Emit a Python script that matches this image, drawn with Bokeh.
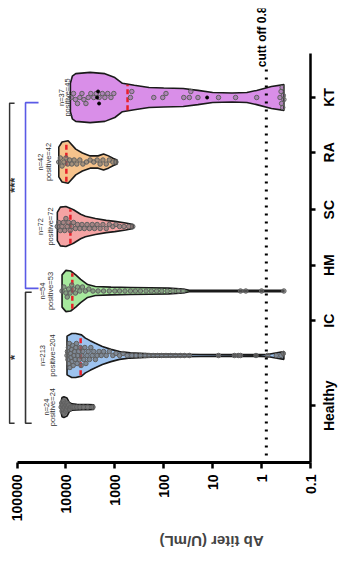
import math
import numpy as np
from bokeh.plotting import figure
from bokeh.models import Range1d, LinearAxis, FixedTicker
from bokeh.core.properties import value
from bokeh.embed import file_html
from bokeh.resources import INLINE

# ---------------- data ----------------
categories = ["Healthy", "IC", "HM", "SC", "RA", "KT"]
n_labels = ["n=24", "n=213", "n=54", "n=72", "n=42", "n=37"]
pos_labels = ["positive=24", "positive=204", "positive=53", "positive=72", "positive=42", "positive=45"]
x_ticks = [0.1, 1, 10, 100, 1000, 10000, 100000]
x_tick_labels = ["0.1", "1", "10", "100", "1000", "10000", "100000"]
cutoff = 0.8
cutoff_text = "cutt off 0.8"
axis_title = "Ab titer (U/mL)"

# violin outlines: titer values and half widths (category units)
healthy_prof_v = [12500, 12000, 11000, 9500, 8500, 7500, 6000, 4500, 3500, 2700]
healthy_prof_w = [0.09, 0.15, 0.16, 0.14, 0.07, 0.05, 0.045, 0.04, 0.04, 0.035]
ic_prof_v = [9500, 7600, 6300, 4800, 4000, 3200, 2500, 1800, 1200, 800, 480, 190, 18, 1.05, 0.72, 0.35]
ic_prof_w = [0.30, 0.34, 0.34, 0.32, 0.27, 0.23, 0.19, 0.14, 0.095, 0.06, 0.04, 0.025, 0.016, 0.013, 0.02, 0.06]
hm_prof_v = [12000, 10000, 8000, 6300, 5000, 3600, 2500, 1200, 480, 190, 80, 40, 30, 0.35]
hm_prof_w = [0.25, 0.32, 0.31, 0.25, 0.18, 0.10, 0.07, 0.06, 0.055, 0.05, 0.045, 0.03, 0.01, 0.01]
sc_prof_v = [15000, 13000, 10000, 7000, 5000, 4000, 2500, 1500, 1000, 600, 420]
sc_prof_w = [0.22, 0.30, 0.31, 0.26, 0.19, 0.16, 0.125, 0.095, 0.08, 0.055, 0.03]
ra_prof_v = [14000, 12000, 9000, 6300, 4600, 3200, 2200, 1700, 1350, 1070, 900]
ra_prof_w = [0.23, 0.31, 0.33, 0.20, 0.14, 0.095, 0.095, 0.125, 0.095, 0.055, 0.03]
kt_prof_v = [8100, 7400, 6300, 3200, 1600, 1000, 700, 400, 200, 100, 40, 20, 10, 4, 2, 1.26, 0.63, 0.35]
kt_prof_w = [0.22, 0.33, 0.37, 0.39, 0.37, 0.31, 0.22, 0.19, 0.155, 0.147, 0.14, 0.11, 0.078, 0.07, 0.078, 0.11, 0.17, 0.20]

# individual titers (approximate readings)
healthy_vals = [12500, 12200, 12000, 11800, 11500, 11200, 11000, 10800, 10500, 10200, 10000, 9800,
                9500, 9200, 8800, 8400, 8000, 7400, 6800, 6000, 5200, 4400, 3600, 2800]
ic_vals = [9500, 9300, 9100, 8900, 8700, 8500, 8300, 8100, 7900, 7700, 7500, 7300, 7100,
           6900, 6700, 6500, 6300, 6100, 5900, 5700, 5500, 5300, 5100, 4900, 4700, 4500,
           4300, 4100, 3900, 3700, 3500, 3300, 3100, 2900, 2700, 2500, 2300, 2100,
           1900, 1700, 1500, 1300, 1100, 950, 800, 680, 560,
           450, 370, 300, 240, 200, 165, 135, 110, 90, 72, 58, 46, 38, 30,
           7.6, 3.6, 3.0, 2.7, 1.3, 0.75, 0.5, 0.4, 0.36]
hm_vals = [12000, 11000, 10000, 9400, 8800, 8200, 7600, 7000, 6400, 5800, 5200, 4600, 4000,
           3400, 2800, 2200, 1700, 1300, 1000, 800, 620, 480, 380, 300, 230, 180, 140, 110, 85,
           65, 50, 40, 2.7, 2.1, 1.0, 0.35]
sc_vals = [15000, 14000, 13000, 12000, 11300, 10600, 10000, 9400, 8800, 8200, 7600, 7000, 6400,
           5800, 5200, 4700, 4200, 3700, 3300, 2900, 2600, 2300, 2000, 1750, 1500, 1300, 1100, 950,
           800, 650, 520, 430]
ra_vals = [14000, 13000, 12000, 11000, 10000, 9200, 8400, 7600, 6800, 6000, 5200, 4500, 3800,
           3200, 2700, 2300, 2000, 1750, 1500, 1300, 1100, 950]
kt_vals = [7800, 7000, 6400, 5800, 5200, 4700, 4300, 3900, 3500, 3100, 2700, 2400, 2100,
           1800, 1600, 1400, 1200, 1050, 480, 450, 160, 105, 90, 39, 30, 28, 20, 7.6, 3.4, 1.26,
           0.42, 0.4, 0.39, 0.38, 0.37, 0.36, 0.35]
kt_black_vals = [2300, 2200, 2100, 13]
medians = [None, 5000, 7400, 8100, 9800, 550]

profiles_v = [healthy_prof_v, ic_prof_v, hm_prof_v, sc_prof_v, ra_prof_v, kt_prof_v]
profiles_w = [healthy_prof_w, ic_prof_w, hm_prof_w, sc_prof_w, ra_prof_w, kt_prof_w]
values = [healthy_vals, ic_vals, hm_vals, sc_vals, ra_vals, kt_vals]

# ---------------- styles / layout ----------------
fills = ["#8a8a8a", "#9dc3ef", "#a6e89d", "#f5a4a4", "#f6c38c", "#d98ee8"]
dot_alpha = [0.75, 0.7, 0.6, 0.6, 0.6, 0.4]
spread = [0.6, 0.6, 0.6, 0.6, 0.6, 0.85]
violin_pos = [0.2, 1, 2, 3, 4, 5]                # vertical position of each violin
label_pos = [0.22, 1.54, 2.40, 3.26, 4.15, 5.0]  # centre of each category tick label
n_label_x = [25000, 30000, 30000, 33000, 33000, 12300]
pos_label_x = [18800, 18800, 20700, 20700, 22700, 9300]
FONT = "Liberation Sans"
LABEL_PX = 14
# Arial-bold advance widths (em) used to centre the rotated tick labels
_em = {"H": .722, "e": .556, "a": .556, "l": .278, "t": .333, "h": .611, "y": .556, "I": .278,
       "C": .722, "M": .833, "S": .667, "R": .722, "A": .722, "K": .722, "T": .611}

FRAME_W, FRAME_H = 302, 454
x_lo, x_hi = 10 ** 5.174, 0.1
y_lo, y_hi = -0.659, 6.38
ppd = FRAME_W / (math.log10(x_lo) - math.log10(x_hi))
ppu = FRAME_H / (y_hi - y_lo)

p = figure(frame_width=FRAME_W, frame_height=FRAME_H, x_axis_type="log", y_axis_location=None,
           x_range=Range1d(x_lo, x_hi), y_range=Range1d(y_lo, y_hi),
           output_backend="svg", toolbar_location=None, title=None,
           min_border_left=8, min_border_top=8, min_border_right=0, min_border_bottom=97)
p.grid.visible = False
p.outline_line_color = None
p.background_fill_color = "white"

# bottom axis
xa = p.xaxis[0]
xa.ticker = FixedTicker(ticks=x_ticks)
xa.major_label_overrides = {t: l for t, l in zip(x_ticks, x_tick_labels)}
xa.major_label_orientation = math.pi / 2
xa.major_label_text_font = FONT
xa.major_label_text_font_style = "bold"
xa.major_label_text_font_size = "14px"
xa.major_label_text_color = "black"
xa.axis_line_width = 3
xa.major_tick_line_width = 2.5
xa.major_tick_out = 6
xa.major_tick_in = 0
xa.minor_tick_line_color = None
xa.bounds = (0.1, 100000)
xa.major_label_standoff = 6
xa.axis_label = axis_title
xa.axis_label_text_font = FONT
xa.axis_label_text_font_style = "bold"
xa.axis_label_text_font_size = "15px"
xa.axis_label_standoff = 17
xa.axis_label_orientation = math.pi

# right category axis: line + ticks
ya = LinearAxis(ticker=FixedTicker(ticks=label_pos),
                major_label_overrides={t: "" for t in label_pos})
ya.major_label_text_font_size = "1px"
ya.major_label_standoff = 0
ya.axis_line_width = 2.5
ya.major_tick_line_width = 2.5
ya.major_tick_out = 5
ya.major_tick_in = 0
ya.minor_tick_line_color = None
ya.bounds = (-0.659, 5.682)
p.add_layout(ya, "right")

# right category axis: labels (rotated, centred on their tick)
starts = [lp - sum(_em[ch] for ch in c) * LABEL_PX / 2 / ppu for lp, c in zip(label_pos, categories)]
yl = LinearAxis(ticker=FixedTicker(ticks=starts),
                major_label_overrides={s: c for s, c in zip(starts, categories)})
yl.major_label_orientation = math.pi / 2
yl.major_label_text_font = FONT
yl.major_label_text_font_style = "bold"
yl.major_label_text_font_size = f"{LABEL_PX}px"
yl.major_label_text_color = "black"
yl.axis_line_color = None
yl.major_tick_line_color = None
yl.minor_tick_line_color = None
yl.major_tick_out = 0
yl.major_tick_in = 0
yl.major_label_standoff = 14
p.add_layout(yl, "right")


def swarm(vals, pv, pw, D=4.0, step=2.0, frac=0.6):
    lv = np.log10(np.array(vals, dtype=float))
    lp = np.log10(np.array(pv, dtype=float))[::-1]
    wp = np.array(pw, dtype=float)[::-1]
    order = np.argsort(-lv, kind="stable")
    placed = []
    offs = np.zeros(len(vals))
    for i in order:
        xp = lv[i] * ppd
        cap = frac * np.interp(lv[i], lp, wp) * ppu
        cands = [0.0]
        k = 1
        while k * step <= cap:
            cands += [k * step, -k * step]
            k += 1
        best, bestd = 0.0, -1.0
        for c in cands:
            dmin = min((math.hypot(xp - a, c - b) for a, b in placed if abs(xp - a) < D), default=1e9)
            if dmin >= D:
                best = c
                break
            if dmin > bestd:
                bestd, best = dmin, c
        placed.append((xp, best))
        offs[i] = best / ppu
    return offs


for i, cat in enumerate(categories):
    c = violin_pos[i]
    pv, pw = profiles_v[i], profiles_w[i]
    xs = list(pv) + list(pv[::-1])
    ys = [c + w for w in pw] + [c - w for w in pw[::-1]]
    p.patch(xs, ys, fill_color=fills[i], line_color="#1a1a1a", line_width=1.6)
    if medians[i] is not None:
        w = float(np.interp(math.log10(medians[i]), np.log10(pv)[::-1], np.array(pw)[::-1]))
        p.line([medians[i], medians[i]], [c - w * 0.95, c + w * 0.95], line_color="#e8202a",
               line_width=2.5, line_dash="5 3")
    offs = swarm(values[i], pv, pw, D=4.5 if spread[i] > 0.7 else 4.0, frac=spread[i])
    p.scatter(values[i], c + offs, size=4.5, fill_color="#707070", fill_alpha=dot_alpha[i],
              line_color="#606060", line_width=1)
    p.text([n_label_x[i]], [c], text=[n_labels[i]], angle=math.pi / 2, text_align="center",
           text_baseline="middle", text_font=value(FONT), text_font_size="7.5px", text_color="#333333")
    p.text([pos_label_x[i]], [c], text=[pos_labels[i]], angle=math.pi / 2, text_align="center",
           text_baseline="middle", text_font=value(FONT), text_font_size="7.5px", text_color="#333333")

kt_i = categories.index("KT")
kt_c = violin_pos[kt_i]
kb_offs = swarm(kt_black_vals, kt_prof_v, kt_prof_w, D=6.0, step=6.0)
p.scatter(kt_black_vals, kt_c + kb_offs, size=3, fill_color="black", line_color="black")

# cutoff line & text
p.line([cutoff, cutoff], [-0.55, 5.45], line_color="black", line_width=3, line_dash="2 6")
p.text([1.0], [5.47], text=[cutoff_text], angle=math.pi / 2, text_align="left",
       text_baseline="middle", text_font=value(FONT), text_font_style="bold",
       text_font_size="12px", text_color="black")

# significance brackets
hm_c = violin_pos[categories.index("HM")]
outer_x, outer_tick = 10 ** 5.153, 10 ** 5.05
inner_x, inner_tick, blue_tick = 10 ** 4.826, 10 ** 4.70, 10 ** 4.56
p.line([outer_tick, outer_x, outer_x, outer_tick], [kt_c - 0.09, kt_c - 0.09, -0.05, -0.05],
       line_color="#333333", line_width=1.6)
p.line([blue_tick, inner_x, inner_x, blue_tick], [kt_c - 0.08, kt_c - 0.08, hm_c + 0.04, hm_c + 0.04],
       line_color="#5a5ae6", line_width=1.6)
p.line([inner_tick, inner_x, inner_x, inner_tick], [hm_c - 0.02, hm_c - 0.02, -0.05, -0.05],
       line_color="#333333", line_width=1.6)
p.text([outer_tick], [3.64], text=["***"], angle=math.pi / 2, text_align="center",
       text_baseline="middle", text_font=value(FONT), text_font_style="bold",
       text_font_size="13px", text_color="#333333")
p.text([outer_tick], [0.97], text=["*"], angle=math.pi / 2, text_align="center",
       text_baseline="middle", text_font=value(FONT), text_font_style="bold",
       text_font_size="13px", text_color="#333333")

open("out.html", "w").write(file_html(p, INLINE))
